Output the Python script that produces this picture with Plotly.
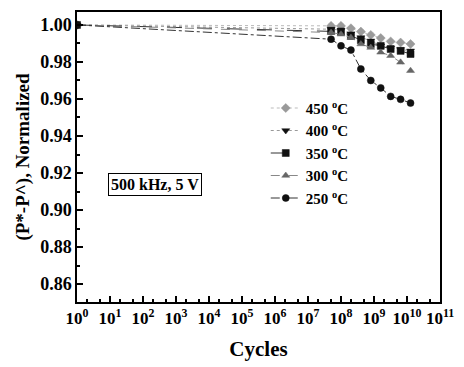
import plotly.graph_objects as go

cycles = [1, 5e7, 1e8, 2e8, 4e8, 8e8, 1.6e9, 3.2e9, 6.4e9, 1.28e10]

series_names = ["450 <sup>o</sup>C", "400 <sup>o</sup>C", "350 <sup>o</sup>C", "300 <sup>o</sup>C", "250 <sup>o</sup>C"]
v450 = [1.000, 0.9995, 0.9995, 0.9982, 0.9964, 0.9946, 0.9929, 0.9911, 0.9905, 0.9897]
v400 = [1.000, 0.9977, 0.9972, 0.9953, 0.9932, 0.9914, 0.9887, 0.9875, 0.9868, 0.9860]
v350 = [1.000, 0.9968, 0.9964, 0.9941, 0.9918, 0.9897, 0.9887, 0.9870, 0.9860, 0.9843]
v300 = [1.000, 0.9959, 0.9950, 0.9932, 0.9897, 0.9878, 0.9852, 0.9834, 0.9798, 0.9753]
v250 = [1.000, 0.9923, 0.9887, 0.9864, 0.9762, 0.9700, 0.9660, 0.9614, 0.9598, 0.9578]
values = [v450, v400, v350, v300, v250]

symbols = ["diamond-x", "triangle-down", "square", "triangle-up", "circle"]
mcolors = ["#9a9a9a", "#111111", "#111111", "#666666", "#111111"]
lcolors = ["#bbbbbb", "#999999", "#333333", "#888888", "#333333"]
dashes = ["dot", "dot", "longdash", "dash", "dashdot"]

xtick_vals = [10 ** k for k in range(12)]
xtick_text = ["10<sup>%d</sup>" % k for k in range(12)]
ytick_vals = [0.86, 0.88, 0.90, 0.92, 0.94, 0.96, 0.98, 1.00]

FONT = "Liberation Serif"

fig = go.Figure()
for name, v, s, mc, lc, d in zip(series_names, values, symbols, mcolors, lcolors, dashes):
    fig.add_trace(go.Scatter(
        x=cycles, y=v, name="<b>" + name + "</b>", mode="lines+markers",
        marker=dict(symbol=s, size=7, color=mc, line=dict(width=0.5, color=mc)),
        line=dict(color=lc, width=1, dash=d),
    ))

fig.add_annotation(
    x=0.216, y=0.405, xref="paper", yref="paper", xanchor="center", yanchor="middle",
    text="<b>500 kHz, 5 V</b>", showarrow=False,
    font=dict(family=FONT, size=16, color="black"),
    bordercolor="black", borderwidth=1, borderpad=2, bgcolor="white",
)

fig.update_layout(
    width=464, height=367,
    margin=dict(l=77, r=10, t=11, b=64),
    paper_bgcolor="white", plot_bgcolor="white",
    font=dict(family=FONT, size=14, color="black"),
    showlegend=True,
    legend=dict(x=0.52, y=0.725, xanchor="left", yanchor="top",
                bgcolor="rgba(0,0,0,0)", font=dict(family=FONT, size=15, color="black"),
                itemwidth=30, tracegroupgap=0),
    xaxis=dict(
        type="log", range=[0, 11],
        tickvals=xtick_vals, ticktext=["<b>" + t + "</b>" for t in xtick_text],
        ticklabeloverflow="allow",
        ticks="inside", ticklen=6, tickwidth=1.5, tickcolor="black",
        minor=dict(ticks="inside", ticklen=3, tickcolor="black", showgrid=False),
        showline=True, linecolor="black", linewidth=1.5, mirror=True,
        showgrid=False, zeroline=False,
        tickfont=dict(family=FONT, size=17, color="black"),
        title=dict(text="<b>Cycles</b>", font=dict(family=FONT, size=21, color="black"), standoff=14),
    ),
    yaxis=dict(
        range=[0.8503, 1.007],
        tickvals=ytick_vals, ticktext=["<b>%.2f</b>" % t for t in ytick_vals],
        ticks="inside", ticklen=6, tickwidth=1.5, tickcolor="black",
        minor=dict(ticks="inside", ticklen=3, dtick=0.01, tick0=0.85, tickcolor="black", showgrid=False),
        showline=True, linecolor="black", linewidth=1.5, mirror=True,
        showgrid=False, zeroline=False,
        tickfont=dict(family=FONT, size=18, color="black"),
        title=dict(text="<b>(P*-P^), Normalized</b>", font=dict(family=FONT, size=19, color="black"), standoff=6),
    ),
)

fig.write_html("out.html")
